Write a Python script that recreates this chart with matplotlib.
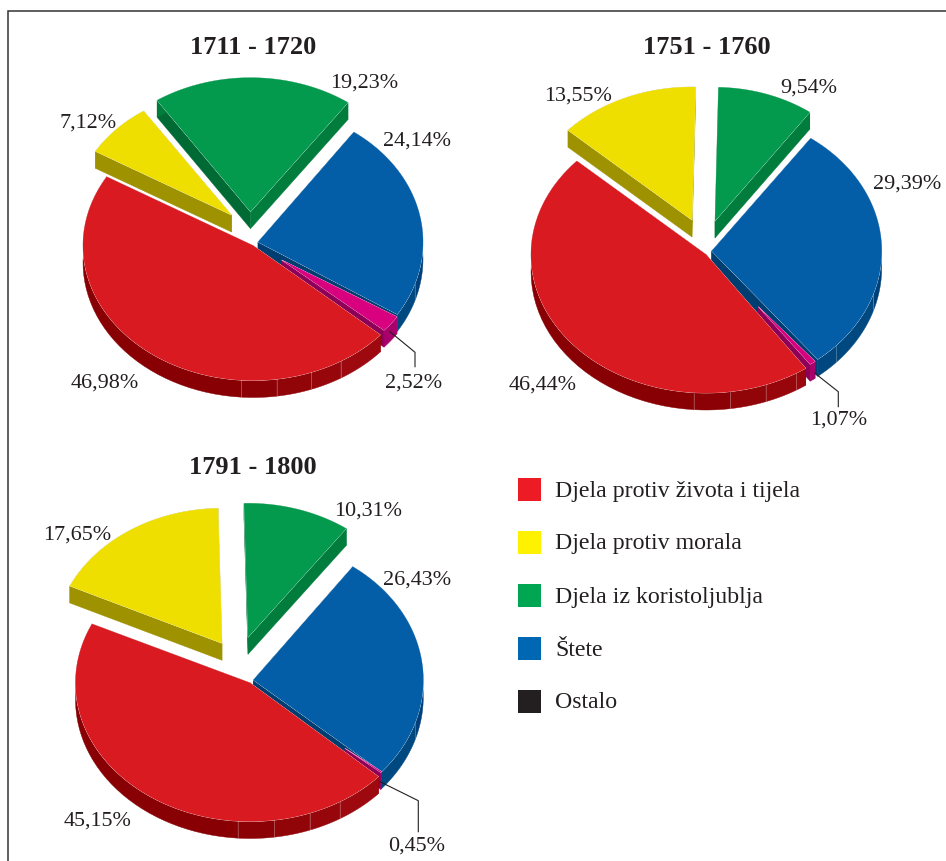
import numpy as np
import matplotlib
matplotlib.use("Agg")
import matplotlib.pyplot as plt
from matplotlib.colors import to_rgb
from matplotlib.patches import Polygon, Rectangle

plt.rcParams["font.family"] = ["Liberation Serif", "DejaVu Serif"]

W, H = 946, 861
TEXT = "#231F20"

# share of each category, in drawing order round the pie (clockwise from blue)
SLICE_ORDER = ["blue", "magenta", "red", "yellow", "green"]
values_1711 = [24.14, 2.52, 46.98, 7.12, 19.23]
values_1751 = [29.39, 1.07, 46.44, 13.55, 9.54]
values_1791 = [26.43, 0.45, 45.15, 17.65, 10.31]

titles = ["1711 - 1720", "1751 - 1760", "1791 - 1800"]
legend_labels = ["Djela protiv života i tijela", "Djela protiv morala",
                 "Djela iz koristoljublja", "Štete", "Ostalo"]
legend_colors = ["#ED1C24", "#FFF200", "#00A651", "#0067B3", "#231F20"]

# top colour, first radial wall, arc wall (dark end), arc wall (light end), last radial wall
SHADES = {
    "red": ("#DA1A21", "#8E0005", "#880004", "#A00A10", "#8E0005"),
    "yellow": ("#EEDF00", "#9E9200", "#9E9200", "#9E9200", "#9E9200"),
    "green": ("#049A4E", "#006A35", "#007C3C", "#007C3C", "#007C3C"),
    "blue": ("#035EA7", "#003D71", "#00407A", "#004880", "#003D71"),
    "magenta": ("#D9007F", "#A8006B", "#A8006B", "#A8006B", "#8E0058"),
}
DRAW_ORDER = ["green", "yellow", "blue", "magenta", "red"]
SEAMS = {"red": [-94, -82, -70, -59], "blue": [-43, -18]}
DEPTH = 17

# every slice has its own centre and radii on the page: cx, cy, rx, ry
PIES = [
    {
        "values": values_1711, "start": 54.5, "title_at": (253, 48),
        "geom": {"red": (253, 245.5, 170, 135), "yellow": (231.5, 215, 158, 125),
                 "green": (250.5, 211.7, 168, 134), "blue": (258, 242, 165, 135),
                 "magenta": (281.7, 260, 136.5, 106)},
        "label_at": [(417, 141), (414, 383), (105, 383), (88, 123), (364, 83)],
        "leader": [(390, 331.7), (415, 352.3), (415, 366.7)],
    },
    {
        "values": values_1751, "start": 54.4, "title_at": (707, 48),
        "geom": {"red": (706, 254.5, 175, 138.5), "yellow": (692, 220, 168, 133),
                 "green": (715, 221, 163, 133.7), "blue": (711.7, 251, 170, 138.6),
                 "magenta": (758.3, 306.7, 91, 70)},
        "label_at": [(907, 184), (839, 420), (543, 385), (578, 96), (809, 88)],
        "leader": [(815, 373.3), (838.3, 391.7), (838.3, 406.7)],
    },
    {
        "values": values_1791, "start": 54.2, "title_at": (253, 468),
        "geom": {"red": (250, 682.8, 174.5, 138.7), "yellow": (222, 643.3, 168, 135),
                 "green": (248, 637.3, 168, 134), "blue": (253.3, 680, 170, 139.7),
                 "magenta": (345, 748.3, 48.6, 35.7)},
        "label_at": [(417, 580), (417, 846), (98, 821), (77, 535), (368, 511)],
        "leader": [(380, 781.7), (418.3, 800.7), (418.3, 831.7)],
    },
]


def ell(geom, t):
    cx, cy, rx, ry = geom
    t = np.radians(t)
    return np.column_stack([cx + rx * np.cos(t), cy - ry * np.sin(t)])


def wall(ax, pts, color):
    pts = np.asarray(pts)
    ring = np.vstack([pts, pts[::-1] + [0, DEPTH]])
    ax.add_patch(Polygon(ring, closed=True, fc=color, ec=color, lw=0.3))


def draw_slice(ax, name, geom, t1, t2):
    """t1 > t2, slice runs clockwise on the page from t1 to t2."""
    top, wall_a, arc_dark, arc_light, wall_b = SHADES[name]
    centre = geom[:2]
    wall(ax, [centre, ell(geom, [t1])[0]], wall_a)
    wall(ax, [centre, ell(geom, [t2])[0]], wall_b)

    # rim split into flat facets at the seams, lighter towards the right
    dark, light = np.array(to_rgb(arc_dark)), np.array(to_rgb(arc_light))
    cuts = [s for s in SEAMS.get(name, []) if t2 < s < t1 or t2 < s - 360 < t1]
    cuts = sorted({s if t2 < s < t1 else s - 360 for s in cuts}, reverse=True)
    edges = [t1] + cuts + [t2]
    for a, b in zip(edges[:-1], edges[1:]):
        k = np.clip((((a + b) / 2) % 360 - 266) / 50, 0, 1)
        wall(ax, ell(geom, np.linspace(a, b, 40)), dark + (light - dark) * k)
    for s in cuts:
        p = ell(geom, [s])[0]
        ax.plot([p[0], p[0]], [p[1], p[1] + DEPTH], color="#FFFFFF", lw=0.5, alpha=0.35)

    poly = np.vstack([[centre], ell(geom, np.linspace(t1, t2, 120))])
    ax.add_patch(Polygon(poly, closed=True, fc=top, ec="#FFFFFF", lw=0.4))
    ax.add_patch(Polygon(poly, closed=True, fc=top, ec="none"))


fig = plt.figure(figsize=(W / 100, H / 100), dpi=100)
ax = fig.add_axes([0, 0, 1, 1])
ax.set_xlim(0, W)
ax.set_ylim(H, 0)
ax.axis("off")

# page frame, open on the right and bottom
ax.plot([7.5, 7.5, W], [H, 10.5, 10.5], color="#333333", lw=1.1, solid_joinstyle="miter")

for pie, title in zip(PIES, titles):
    angles = {}
    t = pie["start"]
    for name, v in zip(SLICE_ORDER, pie["values"]):
        angles[name] = (t, t - v * 3.6)
        t -= v * 3.6
    for name in DRAW_ORDER:
        draw_slice(ax, name, pie["geom"][name], *angles[name])

    xs, ys = zip(*pie["leader"])
    ax.plot(xs, ys, color=TEXT, lw=0.8, solid_joinstyle="miter")

    ax.text(*pie["title_at"], title, fontsize=19, fontweight="bold", color=TEXT, ha="center", va="center")
    for v, pos in zip(pie["values"], pie["label_at"]):
        ax.text(*pos, f"{v:.2f}%".replace(".", ","), fontsize=15.9, color=TEXT, ha="center", va="center")

for i, (label, color) in enumerate(zip(legend_labels, legend_colors)):
    y = 478 + 53 * i
    ax.add_patch(Rectangle((518, y), 23, 23, fc=color, ec="none"))
    ax.text(555, y + 13, label, fontsize=17.2, color=TEXT, ha="left", va="center")

fig.savefig("out.png", dpi=100)
